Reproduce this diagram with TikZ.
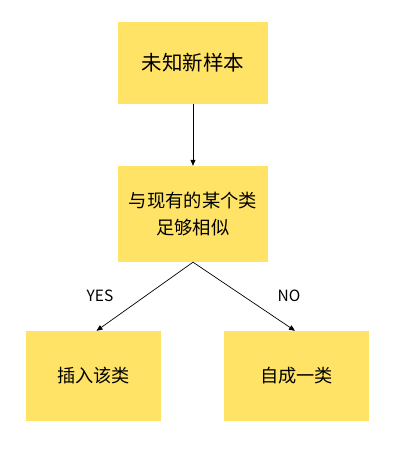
\documentclass[tikz,border=0pt]{standalone}
\usepackage{fontspec}
\newfontfamily\cjk{Noto Sans CJK SC}
\setmainfont{Noto Sans CJK SC}
\usetikzlibrary{arrows.meta}
\definecolor{boxyellow}{HTML}{FFE366}
\begin{document}
\begin{tikzpicture}[x=1pt,y=1pt,
  yellowbox/.style={fill=boxyellow, draw=none, inner sep=0pt, align=center, font=\cjk},
  conn/.style={draw=black, line width=0.7pt, -{Triangle[length=6pt,width=5pt]}},
  lbl/.style={font=\cjk\fontsize{15.5}{18}\selectfont}]
\useasboundingbox (0,0) rectangle (412,451);
\node[yellowbox, minimum width=150pt, minimum height=82pt, font=\cjk\fontsize{20.5}{24}\selectfont] (top) at (193,388) {未知新样本};
\node[yellowbox, minimum width=150pt, minimum height=96pt, font=\cjk\fontsize{18.3}{27}\selectfont] (mid) at (193,237) {与现有的某个类\\足够相似};
\node[yellowbox, minimum width=135pt, minimum height=90pt, font=\cjk\fontsize{18.2}{22}\selectfont] (left) at (93.5,75) {插入该类};
\node[yellowbox, minimum width=145pt, minimum height=90pt, font=\cjk\fontsize{18.2}{22}\selectfont] (right) at (296.5,75) {自成一类};
\draw[conn] (top.south) -- (mid.north);
\coordinate (lt) at ([xshift=3pt]left.north);
\coordinate (rt) at ([xshift=-1.5pt]right.north);
\draw[conn] (mid.south) -- (lt);
\draw[conn] (mid.south) -- (rt);
\node[lbl] (yes) at (100,155) {YES};
\node[lbl] (no) at (289,155) {NO};
\end{tikzpicture}
\end{document}
